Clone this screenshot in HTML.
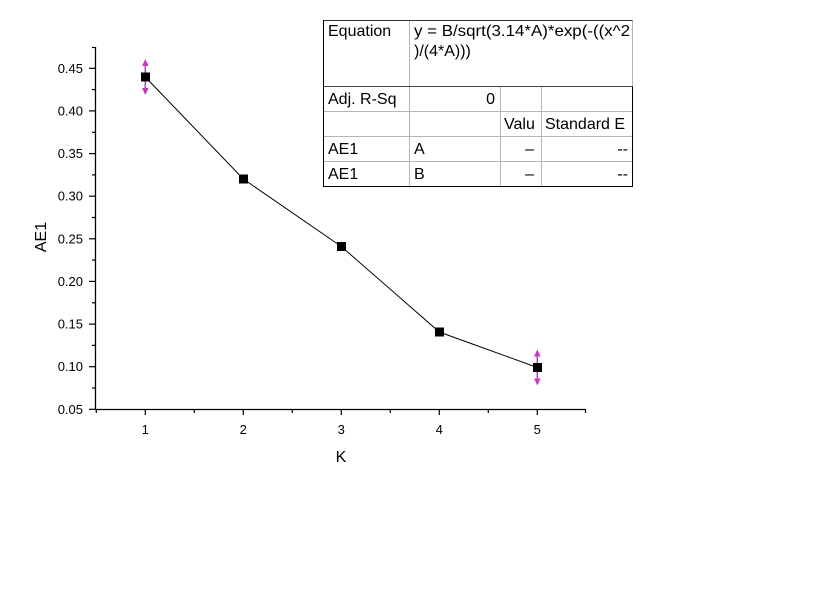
<!DOCTYPE html>
<html>
<head>
<meta charset="utf-8">
<style>
html,body{margin:0;padding:0;background:#fff;}
svg{display:block;}
text{font-family:"Liberation Sans",Arial,sans-serif;fill:#000;}
</style>
</head>
<body>
<svg width="836" height="591" viewBox="0 0 836 591" xmlns="http://www.w3.org/2000/svg">
<rect x="0" y="0" width="836" height="591" fill="#fff"/>

<!-- axes -->
<line x1="95.5" y1="47" x2="95.5" y2="409.5" stroke="#000" stroke-width="1.3"/>
<line x1="95.5" y1="409.5" x2="586" y2="409.5" stroke="#000" stroke-width="1.3"/>

<!-- y major ticks -->
<g stroke="#000" stroke-width="1.2">
<line x1="89" y1="409.3" x2="95.5" y2="409.3"/>
<line x1="89" y1="366.7" x2="95.5" y2="366.7"/>
<line x1="89" y1="324.1" x2="95.5" y2="324.1"/>
<line x1="89" y1="281.4" x2="95.5" y2="281.4"/>
<line x1="89" y1="238.8" x2="95.5" y2="238.8"/>
<line x1="89" y1="196.2" x2="95.5" y2="196.2"/>
<line x1="89" y1="153.6" x2="95.5" y2="153.6"/>
<line x1="89" y1="110.9" x2="95.5" y2="110.9"/>
<line x1="89" y1="68.3" x2="95.5" y2="68.3"/>
<!-- y minor -->
<line x1="92" y1="388" x2="95.5" y2="388"/>
<line x1="92" y1="345.4" x2="95.5" y2="345.4"/>
<line x1="92" y1="302.8" x2="95.5" y2="302.8"/>
<line x1="92" y1="260.1" x2="95.5" y2="260.1"/>
<line x1="92" y1="217.5" x2="95.5" y2="217.5"/>
<line x1="92" y1="174.9" x2="95.5" y2="174.9"/>
<line x1="92" y1="132.3" x2="95.5" y2="132.3"/>
<line x1="92" y1="89.6" x2="95.5" y2="89.6"/>
<line x1="92" y1="47.5" x2="95.5" y2="47.5"/>
<!-- x major -->
<line x1="145.3" y1="409.5" x2="145.3" y2="415"/>
<line x1="243.3" y1="409.5" x2="243.3" y2="415"/>
<line x1="341.3" y1="409.5" x2="341.3" y2="415"/>
<line x1="439.3" y1="409.5" x2="439.3" y2="415"/>
<line x1="537.3" y1="409.5" x2="537.3" y2="415"/>
<!-- x minor -->
<line x1="96.3" y1="409.5" x2="96.3" y2="413"/>
<line x1="194.3" y1="409.5" x2="194.3" y2="413"/>
<line x1="292.3" y1="409.5" x2="292.3" y2="413"/>
<line x1="390.3" y1="409.5" x2="390.3" y2="413"/>
<line x1="488.3" y1="409.5" x2="488.3" y2="413"/>
<line x1="585.5" y1="409.5" x2="585.5" y2="413"/>
</g>

<!-- y tick labels -->
<g font-size="13" text-anchor="end" fill="#222">
<text x="83" y="413.8">0.05</text>
<text x="83" y="371.2">0.10</text>
<text x="83" y="328.6">0.15</text>
<text x="83" y="285.9">0.20</text>
<text x="83" y="243.3">0.25</text>
<text x="83" y="200.7">0.30</text>
<text x="83" y="158.1">0.35</text>
<text x="83" y="115.4">0.40</text>
<text x="83" y="72.8">0.45</text>
</g>

<!-- x tick labels -->
<g font-size="13" text-anchor="middle">
<text x="145.3" y="434">1</text>
<text x="243.3" y="434">2</text>
<text x="341.3" y="434">3</text>
<text x="439.3" y="434">4</text>
<text x="537.3" y="434">5</text>
</g>

<!-- axis titles -->
<text x="341" y="462" font-size="16" text-anchor="middle">K</text>
<text x="46" y="237" font-size="16" text-anchor="middle" transform="rotate(-90 46 237)">AE1</text>

<!-- data line -->
<polyline points="145.3,77 243.3,179 341.3,246.5 439.3,332 537.3,367.5" fill="none" stroke="#000" stroke-width="1"/>

<!-- error bars -->
<g stroke="#cc33cc" stroke-width="1.5" fill="#cc33cc">
<line x1="145.3" y1="62" x2="145.3" y2="92"/>
<polygon points="145.3,59 142,66 148.6,66" stroke="none"/>
<polygon points="145.3,95 142,88 148.6,88" stroke="none"/>
<line x1="537.3" y1="352" x2="537.3" y2="383"/>
<polygon points="537.3,349.5 534,356.5 540.6,356.5" stroke="none"/>
<polygon points="537.3,385.5 534,378.5 540.6,378.5" stroke="none"/>
</g>

<!-- markers -->
<g fill="#000">
<rect x="141" y="72.5" width="9" height="9"/>
<rect x="239" y="174.5" width="9" height="9"/>
<rect x="337" y="242" width="9" height="9"/>
<rect x="435" y="327.5" width="9" height="9"/>
<rect x="533" y="363" width="9" height="9"/>
</g>

<!-- table -->
<g stroke-width="1" fill="none">
<line x1="409.5" y1="20.5" x2="409.5" y2="186.5" stroke="#b5b5b5"/>
<line x1="500.5" y1="86.5" x2="500.5" y2="186.5" stroke="#b5b5b5"/>
<line x1="541.5" y1="86.5" x2="541.5" y2="186.5" stroke="#b5b5b5"/>
<line x1="323.5" y1="111.5" x2="632.5" y2="111.5" stroke="#b5b5b5"/>
<line x1="323.5" y1="136.5" x2="632.5" y2="136.5" stroke="#b5b5b5"/>
<line x1="323.5" y1="161.5" x2="632.5" y2="161.5" stroke="#b5b5b5"/>
<line x1="632.5" y1="20.5" x2="632.5" y2="86.5" stroke="#b5b5b5"/>
<line x1="323.5" y1="86.5" x2="632.5" y2="86.5" stroke="#444"/>
<line x1="323.5" y1="20.5" x2="632.5" y2="20.5" stroke="#333"/>
<line x1="323.5" y1="20" x2="323.5" y2="187" stroke="#000"/>
<line x1="632.5" y1="86.5" x2="632.5" y2="187" stroke="#000"/>
<line x1="323" y1="186.5" x2="633" y2="186.5" stroke="#000"/>
</g>
<g font-size="16">
<text x="328" y="36">Equation</text>
<text x="414" y="36" textLength="216" lengthAdjust="spacingAndGlyphs">y = B/sqrt(3.14*A)*exp(-((x^2</text>
<text x="414" y="56">)/(4*A)))</text>
<text x="328" y="104">Adj. R-Sq</text>
<text x="495" y="104" text-anchor="end">0</text>
<text x="504" y="129">Valu</text>
<text x="545" y="129">Standard E</text>
<text x="328" y="154">AE1</text>
<text x="414" y="154">A</text>
<text x="534" y="154" text-anchor="end">–</text>
<text x="628" y="154" text-anchor="end">--</text>
<text x="328" y="179">AE1</text>
<text x="414" y="179">B</text>
<text x="534" y="179" text-anchor="end">–</text>
<text x="628" y="179" text-anchor="end">--</text>
</g>
</svg>
</body>
</html>
